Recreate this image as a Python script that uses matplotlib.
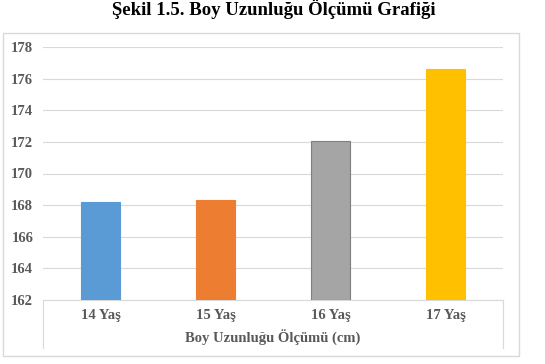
import matplotlib
matplotlib.use("Agg")
import matplotlib.pyplot as plt
from matplotlib.lines import Line2D
from matplotlib.patches import Rectangle

categories = ["14 Yaş", "15 Yaş", "16 Yaş", "17 Yaş"]
values = [168.2, 168.3, 172.05, 176.6]
colors = ["#5B9BD5", "#ED7D31", "#A5A5A5", "#FFC000"]
edges = ["#5B9BD5", "#ED7D31", "#7F7F7F", "#FFC000"]
yticks = [162, 164, 166, 168, 170, 172, 174, 176, 178]
title = "Şekil 1.5. Boy Uzunluğu Ölçümü Grafiği"
xlabel = "Boy Uzunluğu Ölçümü (cm)"

W, H = 545, 364
fig = plt.figure(figsize=(W / 100, H / 100), dpi=100)
fig.patch.set_facecolor("white")
font = "Liberation Serif"
txtc = "#595959"

def fx(x):
    return x / W

def fy(y):
    return 1 - y / H

# outer chart frame
fig.add_artist(Rectangle((fx(3), fy(356)), fx(519) - fx(3), fy(33) - fy(356),
                         transform=fig.transFigure, fill=False,
                         edgecolor="#D9D9D9", linewidth=1.0))

ax = fig.add_axes([fx(43), fy(300), fx(503) - fx(43), fy(47) - fy(300)])
x = list(range(len(categories)))
ax.bar(x, [v - 162 for v in values], bottom=162, width=0.34, color=colors,
       edgecolor=edges, linewidth=0.8, zorder=3)
ax.set_xlim(-0.5, len(categories) - 0.5)
ax.set_ylim(162, 178)
ax.set_yticks(yticks)
ax.set_yticklabels([str(t) for t in yticks], fontfamily=font, fontweight="bold",
                   fontsize=10.5, color=txtc)
ax.tick_params(axis="y", length=0, pad=7)
ax.tick_params(axis="x", length=0, pad=6.5)
ax.set_xticks(x)
ax.set_xticklabels(categories, fontfamily=font, fontweight="bold", fontsize=10.5,
                   color=txtc)
ax.grid(axis="y", color="#D9D9D9", linewidth=0.8, zorder=0)
for s in ["top", "right", "left"]:
    ax.spines[s].set_visible(False)
ax.spines["bottom"].set_color("#D9D9D9")
ax.spines["bottom"].set_linewidth(0.8)

# category box sides
for xx in (43, 503):
    fig.add_artist(Line2D([fx(xx), fx(xx)], [fy(300), fy(348)],
                          transform=fig.transFigure, color="#D9D9D9", linewidth=0.8))

fig.text(fx(273), fy(338), xlabel, ha="center", va="center", fontfamily=font,
         fontweight="bold", fontsize=10.5, color=txtc)
fig.text(fx(274), fy(15), title, ha="center", va="baseline", fontfamily=font,
         fontweight="bold", fontsize=13.5, color="#000000")

fig.savefig("out.png", dpi=100, facecolor="white")
